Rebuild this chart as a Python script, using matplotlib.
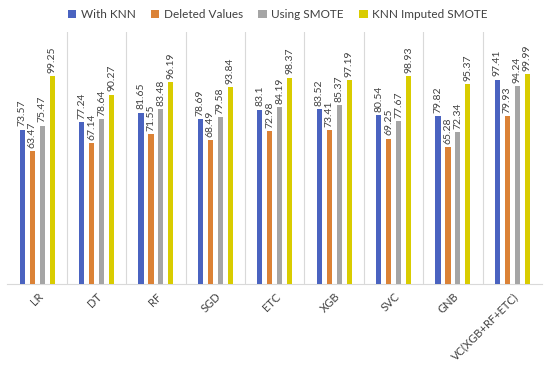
import numpy as np
import matplotlib
matplotlib.use("Agg")
import matplotlib.pyplot as plt

plt.rcParams['font.family'] = ['Lato', 'DejaVu Sans']

# Data
models = ["LR", "DT", "RF", "SGD", "ETC", "XGB", "SVC", "GNB", "VC(XGB+RF+ETC)"]
with_knn = [73.57, 77.24, 81.65, 78.69, 83.1, 83.52, 80.54, 79.82, 97.41]
deleted_values = [63.47, 67.14, 71.55, 68.49, 72.98, 73.41, 69.25, 65.28, 79.93]
using_smote = [75.47, 78.64, 83.48, 79.58, 84.19, 85.37, 77.67, 72.34, 94.24]
knn_smote = [99.25, 90.27, 96.19, 93.84, 98.37, 97.19, 98.93, 95.37, 99.99]

series = [with_knn, deleted_values, using_smote, knn_smote]
names = ["With KNN", "Deleted Values", "Using SMOTE", "KNN Imputed SMOTE"]
colors = ["#4A63C0", "#DB8236", "#A5A5A5", "#D9CC00"]

fig = plt.figure(figsize=(5.5, 3.65), dpi=100)
ax = fig.add_axes([0.0136, 0.222, 0.972, 0.690])

x = np.arange(len(models))
width = 0.085
step = 0.168
for i, (vals, name, c) in enumerate(zip(series, names, colors)):
    pos = x + (i - 1.5) * step
    ax.bar(pos, vals, width, color=c, label=name, zorder=3)
    for p, v in zip(pos, vals):
        ax.text(p, v + 1.5, f"{v:g}", rotation=90, ha="center", va="bottom",
                fontsize=7.5, color="#404040")

ax.set_xlim(-0.5, len(models) - 0.5)
ax.set_ylim(0, 120)
ax.set_yticks([])
ax.set_xticks(x)
ax.set_xticklabels(models, rotation=45, ha="right", rotation_mode="anchor",
                   fontsize=8, color="#404040")
ax.tick_params(axis="x", length=0, pad=5)
for b in np.arange(0.5, len(models) - 0.5, 1):
    ax.axvline(b, color="#D9D9D9", lw=0.8, zorder=1)
for s in ["top", "right", "left"]:
    ax.spines[s].set_visible(False)
ax.spines["bottom"].set_color("#D9D9D9")

fig.legend(loc="upper center", bbox_to_anchor=(0.505, 1.005), ncol=4, frameon=False,
           fontsize=8.5, handlelength=0.7, handleheight=0.7, handletextpad=0.4,
           columnspacing=1.3, labelcolor="#404040")

fig.savefig("out.png", dpi=100)
